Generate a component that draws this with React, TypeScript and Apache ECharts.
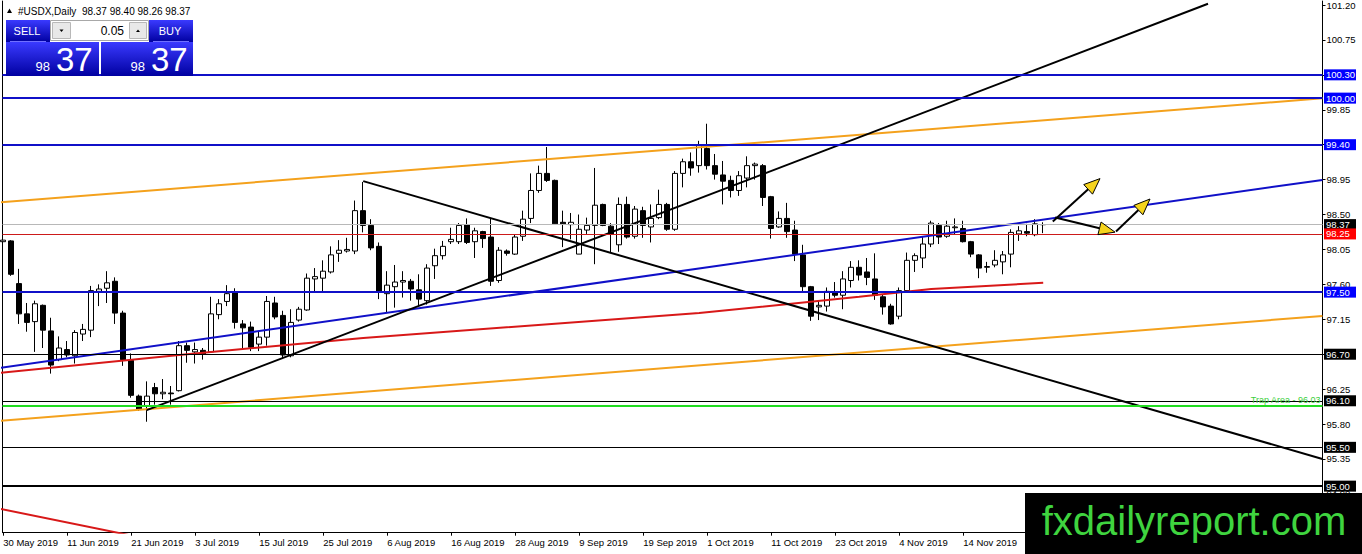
import React, { useEffect, useRef } from "react";
import * as echarts from "echarts";

// ---------- data ----------
const xTickBars = [0, 8, 16, 24, 32, 40, 48, 56, 64, 72, 80, 88, 96, 104, 112, 120];
const xTickLabels = [
  "30 May 2019", "11 Jun 2019", "21 Jun 2019", "3 Jul 2019", "15 Jul 2019", "25 Jul 2019",
  "6 Aug 2019", "16 Aug 2019", "28 Aug 2019", "9 Sep 2019", "19 Sep 2019", "1 Oct 2019",
  "11 Oct 2019", "23 Oct 2019", "4 Nov 2019", "14 Nov 2019",
];
const yTickValues = [94.9, 95.35, 95.8, 96.25, 96.7, 97.15, 97.6, 98.05, 98.5, 98.95, 99.4, 99.85, 100.3, 100.75, 101.2];

const opens = [
  98.15, 98.16, 97.61, 97.22, 97.12, 97.33, 97.0, 96.63, 96.76, 96.68,
  96.96, 97.01, 97.51, 97.55, 97.64, 97.23, 96.62, 96.16, 96.03, 96.27,
  96.19, 96.2, 96.23, 96.81, 96.73, 96.75, 96.73, 97.21, 97.38, 97.49,
  97.09, 97.05, 96.83, 96.92, 97.36, 97.2, 96.68, 97.14, 97.27, 97.67,
  97.68, 97.76, 98.0, 98.03, 98.03, 98.55, 98.36, 98.09, 97.48, 97.57,
  97.63, 97.64, 97.53, 97.39, 97.84, 97.97, 98.15, 98.15, 98.37, 98.15,
  98.28, 98.21, 97.65, 98.03, 97.99, 98.22, 98.45, 98.81, 99.03, 98.94,
  98.4, 98.37, 97.99, 98.3, 98.36, 98.63, 98.35, 98.11, 98.63, 98.22,
  98.55, 98.34, 98.46, 98.63, 98.31, 99.03, 99.18, 99.13, 99.35, 99.13,
  99.01, 98.94, 98.81, 98.97, 99.13, 99.13, 98.73, 98.34, 98.45, 98.3,
  97.98, 97.57, 97.31, 97.32, 97.5, 97.46, 97.65, 97.82, 97.76, 97.67,
  97.44, 97.32, 97.19, 97.52, 97.91, 97.94, 98.12, 98.36, 98.22, 98.33,
  98.32, 98.15, 97.98, 97.82, 97.85, 97.89, 97.99, 98.25, 98.28, 98.24,
  98.37,
];
const closes = [
  98.17, 97.73, 97.22, 97.11, 97.35, 97.01, 96.56, 96.78, 96.69, 96.98,
  97.02, 97.52, 97.54, 97.62, 97.23, 96.63, 96.17, 95.99, 96.16, 96.19,
  96.21, 96.19, 96.81, 96.75, 96.76, 96.7, 97.22, 97.35, 97.48, 97.11,
  97.04, 96.79, 96.92, 97.38, 97.18, 96.69, 97.11, 97.28, 97.68, 97.7,
  97.77, 97.98, 98.04, 98.05, 98.55, 98.36, 98.07, 97.51, 97.59, 97.63,
  97.65, 97.54, 97.41, 97.81, 97.97, 98.09, 98.18, 98.36, 98.14, 98.29,
  98.19, 97.64, 98.04, 98.0, 98.21, 98.44, 98.81, 99.03, 98.94, 98.38,
  98.38, 98.4, 98.31, 98.36, 98.62, 98.36, 98.25, 98.63, 98.21, 98.57,
  98.36, 98.45, 98.63, 98.31, 99.03, 99.18, 99.1, 99.4, 99.13, 99.02,
  98.93, 98.81, 99.0, 99.13, 99.15, 98.72, 98.32, 98.45, 98.28, 97.99,
  97.57, 97.19, 97.33, 97.51, 97.46, 97.67, 97.82, 97.72, 97.69, 97.46,
  97.31, 97.09, 97.52, 97.91, 97.97, 98.12, 98.39, 98.21, 98.35, 98.34,
  98.15, 97.99, 97.81, 97.83, 97.91, 97.98, 98.27, 98.29, 98.26, 98.38,
  98.37,
];
const lows = [
  98.1, 97.71, 97.09, 96.99, 96.73, 96.78, 96.45, 96.61, 96.66, 96.58,
  96.87, 96.92, 97.32, 97.36, 97.09, 96.55, 96.14, 95.97, 95.83, 96.05,
  96.12, 96.05, 96.22, 96.59, 96.58, 96.63, 96.72, 97.15, 97.32, 97.03,
  96.78, 96.74, 96.74, 96.81, 97.15, 96.65, 96.66, 97.12, 97.26, 97.51,
  97.51, 97.74, 97.89, 98.01, 97.99, 98.27, 98.04, 97.41, 97.23, 97.3,
  97.43, 97.39, 97.32, 97.34, 97.67, 97.92, 98.12, 98.12, 98.12, 97.94,
  98.07, 97.58, 97.62, 97.97, 97.98, 98.16, 98.39, 98.78, 98.92, 98.37,
  98.08, 98.18, 97.99, 98.25, 97.86, 98.35, 98.01, 98.02, 98.19, 98.19,
  98.2, 98.14, 98.44, 98.29, 98.29, 98.85, 99.0, 99.04, 99.08, 98.95,
  98.63, 98.72, 98.74, 98.85, 98.95, 98.61, 98.19, 98.33, 98.2, 97.9,
  97.51, 97.13, 97.14, 97.25, 97.43, 97.28, 97.56, 97.65, 97.59, 97.4,
  97.21, 97.08, 97.15, 97.51, 97.76, 97.81, 98.08, 98.12, 98.2, 98.24,
  98.14, 97.95, 97.68, 97.75, 97.82, 97.73, 97.82, 98.16, 98.22, 98.22,
  98.26,
];
const highs = [
  98.26, 98.17, 97.8, 97.36, 97.39, 97.34, 97.17, 96.93, 96.87, 97.01,
  97.09, 97.58, 97.6, 97.77, 97.69, 97.26, 96.71, 96.18, 96.35, 96.33,
  96.38, 96.29, 96.87, 96.85, 96.85, 96.78, 97.44, 97.41, 97.59, 97.55,
  97.14, 97.12, 97.0, 97.45, 97.44, 97.26, 97.28, 97.31, 97.74, 97.81,
  97.91, 98.09, 98.17, 98.2, 98.68, 98.92, 98.44, 98.14, 97.77, 97.85,
  97.77, 97.67, 97.73, 97.86, 98.06, 98.16, 98.33, 98.39, 98.45, 98.33,
  98.29, 98.45, 98.08, 98.05, 98.24, 98.55, 99.03, 99.13, 99.37, 98.95,
  98.55, 98.52, 98.5, 98.46, 99.1, 98.64, 98.39, 98.72, 98.73, 98.61,
  98.6, 98.63, 98.82, 98.65, 99.06, 99.22, 99.3, 99.45, 99.67, 99.28,
  99.19, 99.0, 99.06, 99.25, 99.17, 99.15, 98.74, 98.54, 98.65, 98.42,
  98.11, 97.58, 97.39, 97.56, 97.63, 97.77, 97.9, 97.91, 97.94, 98.0,
  97.47, 97.35, 97.56, 98.01, 98.0, 98.21, 98.42, 98.39, 98.42, 98.45,
  98.42, 98.16, 97.99, 97.89, 98.04, 98.03, 98.31, 98.35, 98.38, 98.44,
  98.4,
];

// moving average read at a few bars
const maBars = [-0.5, 22, 45, 87, 107, 116, 130];
const maValues = [96.46, 96.69, 96.91, 97.23, 97.44, 97.54, 97.62];

// drawn trend lines: [bar, price]
const blueTrend = [[-0.4, 96.525], [164.9, 98.946]];
const orangeUpper = [[-0.4, 98.657], [164.9, 99.998]];
const orangeLower = [[-0.4, 95.843], [164.9, 97.193]];
const blackDown = [[45, 98.93], [164.9, 95.35]];
const blackUp = [[17.94, 95.98], [150.6, 101.216]];
const redDown = [[-0.5, 94.71], [20, 94.28]];

// arrows: [fromBar, fromPrice, toBar, toPrice]
const arrows = [
  [131.2, 98.41, 137.1, 98.963],
  [131.5, 98.462, 138.98, 98.273],
  [139.1, 98.282, 143.35, 98.7],
];

const blueLevels = [100.3, 100.0, 99.4, 97.5];
const blackLevels = [96.7, 96.1, 95.5];
const boldLevel = 95.0;
const redLevel = 98.25;
const trapLevel = 96.03;

// ---------- styles ----------
const FONT = '"Liberation Sans", Arial, sans-serif';
const BLUE = "#1010c8";
const ORANGE = "#f4a11c";
const MA_RED = "#d81818";

export default function App() {
  const ref = useRef<HTMLDivElement>(null);

  useEffect(() => {
    if (!ref.current) return;
    const chart = echarts.init(ref.current, null, { renderer: "svg" });
    const last = closes.length - 1;
    const lastPrice = closes[last];
    const candleData = opens.map((o, i) => [i, o, closes[i], lows[i], highs[i]]);
    const maData = maBars.map((b, i) => [b, maValues[i]]);

    const boxLabel = (v: number, bg: string) => ({
      show: true,
      position: "end",
      formatter: v.toFixed(2),
      color: "#fff",
      backgroundColor: bg,
      padding: [1, 0, 0, 2],
      width: 30,
      lineHeight: 10,
      fontSize: 9.5,
      fontFamily: FONT,
      distance: 1.5,
    });
    const level = (v: number, color: string, width: number, bg: string) => ({
      yAxis: v,
      lineStyle: { color, width, type: "solid" },
      label: boxLabel(v, bg),
    });

    const markLines = [
      { yAxis: lastPrice, lineStyle: { color: "#b8b8b8", width: 1, type: "solid" }, label: boxLabel(lastPrice, "#000") },
      level(redLevel, "#cc1a1a", 1, "#ff0000"),
      ...blueLevels.map((v) => level(v, BLUE, 2, "#0000ff")),
      ...blackLevels.map((v) => level(v, "#000", 1, "#000")),
      level(boldLevel, "#000", 2, "#000"),
      {
        yAxis: trapLevel,
        lineStyle: { color: "#22dd22", width: 2, type: "solid" },
        label: {
          show: true,
          position: "insideEndTop",
          formatter: "Trap Area - " + trapLevel.toFixed(2),
          color: "#3ccf3c",
          fontSize: 9,
          fontFamily: FONT,
          distance: 2,
        },
      },
    ];

    const lineSeries = (name: string, data: number[][], color: string, z = 4) => ({
      name,
      type: "line",
      data,
      xAxisIndex: 0,
      yAxisIndex: 0,
      symbol: "none",
      clip: true,
      silent: true,
      z,
      lineStyle: { color, width: 2 },
    });

    const grad = () =>
      new echarts.graphic.LinearGradient(0, 0, 0, 1, [
        { offset: 0, color: "#3a3aff" },
        { offset: 1, color: "#0000a0" },
      ]);
    const big = Math.round((lastPrice % 1) * 100).toString().padStart(2, "0");
    const small = Math.floor(lastPrice).toString();
    const title = `#USDX,Daily  ${opens[last].toFixed(2)} ${highs[last].toFixed(2)} ${lows[last].toFixed(2)} ${closes[last].toFixed(2)}`;
    const Z = 100;

    const option: any = {
      animation: false,
      backgroundColor: "#fff",
      grid: { left: 2.5, right: 39.5, top: 0, bottom: 21.3, containLabel: false },
      xAxis: {
        type: "value",
        min: -0.0875,
        max: 164.9125,
        splitLine: { show: false },
        axisLine: { show: true, onZero: false, lineStyle: { color: "#000", width: 1 } },
        axisTick: { show: true, customValues: xTickBars, length: 3, lineStyle: { color: "#000" } },
        axisLabel: {
          show: true,
          customValues: xTickBars,
          formatter: (v: number) => xTickLabels[xTickBars.indexOf(Math.round(v))] || "",
          align: "left",
          color: "#000",
          fontSize: 9.5,
          fontFamily: FONT,
          margin: 5,
        },
      },
      yAxis: [
        {
          type: "value",
          position: "right",
          min: 94.4,
          max: 101.251,
          splitLine: { show: false },
          axisLine: { show: true, onZero: false, lineStyle: { color: "#000", width: 1 } },
          axisTick: { show: true, customValues: yTickValues, length: 3, lineStyle: { color: "#000" } },
          axisLabel: {
            show: true,
            customValues: yTickValues,
            formatter: (v: number) => v.toFixed(2),
            color: "#000",
            fontSize: 9.5,
            fontFamily: FONT,
            margin: 4,
          },
        },
        {
          type: "value",
          position: "left",
          min: 94.4,
          max: 101.251,
          splitLine: { show: false },
          axisLine: { show: true, onZero: false, lineStyle: { color: "#000", width: 1 } },
          axisTick: { show: false },
          axisLabel: { show: false },
        },
      ],
      series: [
        {
          name: "USDX",
          type: "candlestick",
          data: candleData,
          encode: { x: 0, y: [1, 2, 3, 4] },
          xAxisIndex: 0,
          yAxisIndex: 0,
          barWidth: 5,
          z: 2,
          silent: true,
          itemStyle: {
            color: "#ffffff",
            color0: "#000000",
            borderColor: "#000000",
            borderColor0: "#000000",
            borderWidth: 1,
          },
        },
        {
          ...lineSeries("levels", [], "#000", 3),
          markLine: { silent: true, symbol: ["none", "none"], animation: false, data: markLines },
        },
        lineSeries("MA", maData, MA_RED),
        lineSeries("redDown", redDown, MA_RED),
        lineSeries("orangeUpper", orangeUpper, ORANGE),
        lineSeries("orangeLower", orangeLower, ORANGE),
        lineSeries("blueTrend", blueTrend, BLUE),
        lineSeries("blackDown", blackDown, "#000"),
        lineSeries("blackUp", blackUp, "#000"),
        {
          name: "arrows",
          type: "custom",
          xAxisIndex: 0,
          yAxisIndex: 0,
          data: arrows,
          encode: { x: [0, 2], y: [1, 3] },
          z: 10,
          silent: true,
          clip: false,
          renderItem: (_p: any, api: any) => {
            const p1 = api.coord([api.value(0), api.value(1)]);
            const p2 = api.coord([api.value(2), api.value(3)]);
            const dx = p2[0] - p1[0];
            const dy = p2[1] - p1[1];
            const len = Math.hypot(dx, dy) || 1;
            const ux = dx / len;
            const uy = dy / len;
            const L = 16;
            const W = 6.5;
            const bx = p2[0] - ux * L;
            const by = p2[1] - uy * L;
            const nx = -uy;
            const ny = ux;
            return {
              type: "group",
              children: [
                { type: "line", shape: { x1: p1[0], y1: p1[1], x2: bx, y2: by }, style: { stroke: "#000", lineWidth: 2 } },
                {
                  type: "polygon",
                  shape: { points: [[p2[0], p2[1]], [bx + nx * W, by + ny * W], [bx - nx * W, by - ny * W]] },
                  style: { fill: "#f5d31c", stroke: "#000", lineWidth: 1 },
                },
              ],
            };
          },
        },
      ],
      graphic: [
        // header
        { type: "polygon", z: Z, shape: { points: [[7, 13], [12, 13], [9.5, 8.5]] }, style: { fill: "#000" } },
        { type: "text", z: Z, x: 18, y: 11, style: { text: title, fill: "#000", font: `10px ${FONT}`, textVerticalAlign: "middle" } },
        // one click panel
        { type: "rect", z: Z, shape: { x: 6, y: 20, width: 44, height: 22 }, style: { fill: grad() } },
        { type: "rect", z: Z, shape: { x: 149, y: 20, width: 44, height: 22 }, style: { fill: grad() } },
        { type: "rect", z: Z, shape: { x: 6, y: 42, width: 93, height: 34 }, style: { fill: grad() } },
        { type: "rect", z: Z, shape: { x: 101, y: 42, width: 92, height: 34 }, style: { fill: grad() } },
        { type: "line", z: Z, shape: { x1: 10, y1: 41.5, x2: 46, y2: 41.5 }, style: { stroke: "#7070ff", lineWidth: 1 } },
        { type: "line", z: Z, shape: { x1: 153, y1: 41.5, x2: 189, y2: 41.5 }, style: { stroke: "#7070ff", lineWidth: 1 } },
        { type: "text", z: Z, x: 27, y: 31, style: { text: "SELL", fill: "#fff", font: `11px ${FONT}`, textAlign: "center", textVerticalAlign: "middle" } },
        { type: "text", z: Z, x: 170, y: 31, style: { text: "BUY", fill: "#fff", font: `11px ${FONT}`, textAlign: "center", textVerticalAlign: "middle" } },
        { type: "rect", z: Z, shape: { x: 50.5, y: 20.5, width: 98, height: 20 }, style: { fill: "#fff", stroke: "#a8a8a8", lineWidth: 1 } },
        { type: "rect", z: Z, shape: { x: 52.5, y: 22.5, width: 18, height: 16 }, style: { fill: "#e8e8e8", stroke: "#b8b8b8", lineWidth: 1 } },
        { type: "rect", z: Z, shape: { x: 129.5, y: 22.5, width: 17, height: 16 }, style: { fill: "#e8e8e8", stroke: "#b8b8b8", lineWidth: 1 } },
        { type: "polygon", z: Z, shape: { points: [[59.5, 29.5], [63.5, 29.5], [61.5, 32]] }, style: { fill: "#000" } },
        { type: "polygon", z: Z, shape: { points: [[136, 32], [140, 32], [138, 29.5]] }, style: { fill: "#000" } },
        { type: "text", z: Z, x: 124, y: 30.5, style: { text: "0.05", fill: "#000", font: `12px ${FONT}`, textAlign: "right", textVerticalAlign: "middle" } },
        { type: "text", z: Z, x: 50, y: 66, style: { text: small, fill: "#fff", font: `13px ${FONT}`, textAlign: "right", textVerticalAlign: "middle" } },
        { type: "text", z: Z, x: 56, y: 59, style: { text: big, fill: "#fff", font: `33px ${FONT}`, textAlign: "left", textVerticalAlign: "middle" } },
        { type: "text", z: Z, x: 145, y: 66, style: { text: small, fill: "#fff", font: `13px ${FONT}`, textAlign: "right", textVerticalAlign: "middle" } },
        { type: "text", z: Z, x: 151, y: 59, style: { text: big, fill: "#fff", font: `33px ${FONT}`, textAlign: "left", textVerticalAlign: "middle" } },
        // watermark
        { type: "rect", z: Z, shape: { x: 1025, y: 493, width: 337, height: 61 }, style: { fill: "#000" } },
        { type: "text", z: Z, x: 1194, y: 521, style: { text: "fxdailyreport.com", fill: "#3fd43f", font: `40px ${FONT}`, textAlign: "center", textVerticalAlign: "middle" } },
      ],
    };

    chart.setOption(option);
    return () => chart.dispose();
  }, []);

  return (
    <div
      ref={ref}
      style={{ position: "fixed", left: 0, top: 0, width: 1362, height: 554, background: "#fff" }}
    />
  );
}
